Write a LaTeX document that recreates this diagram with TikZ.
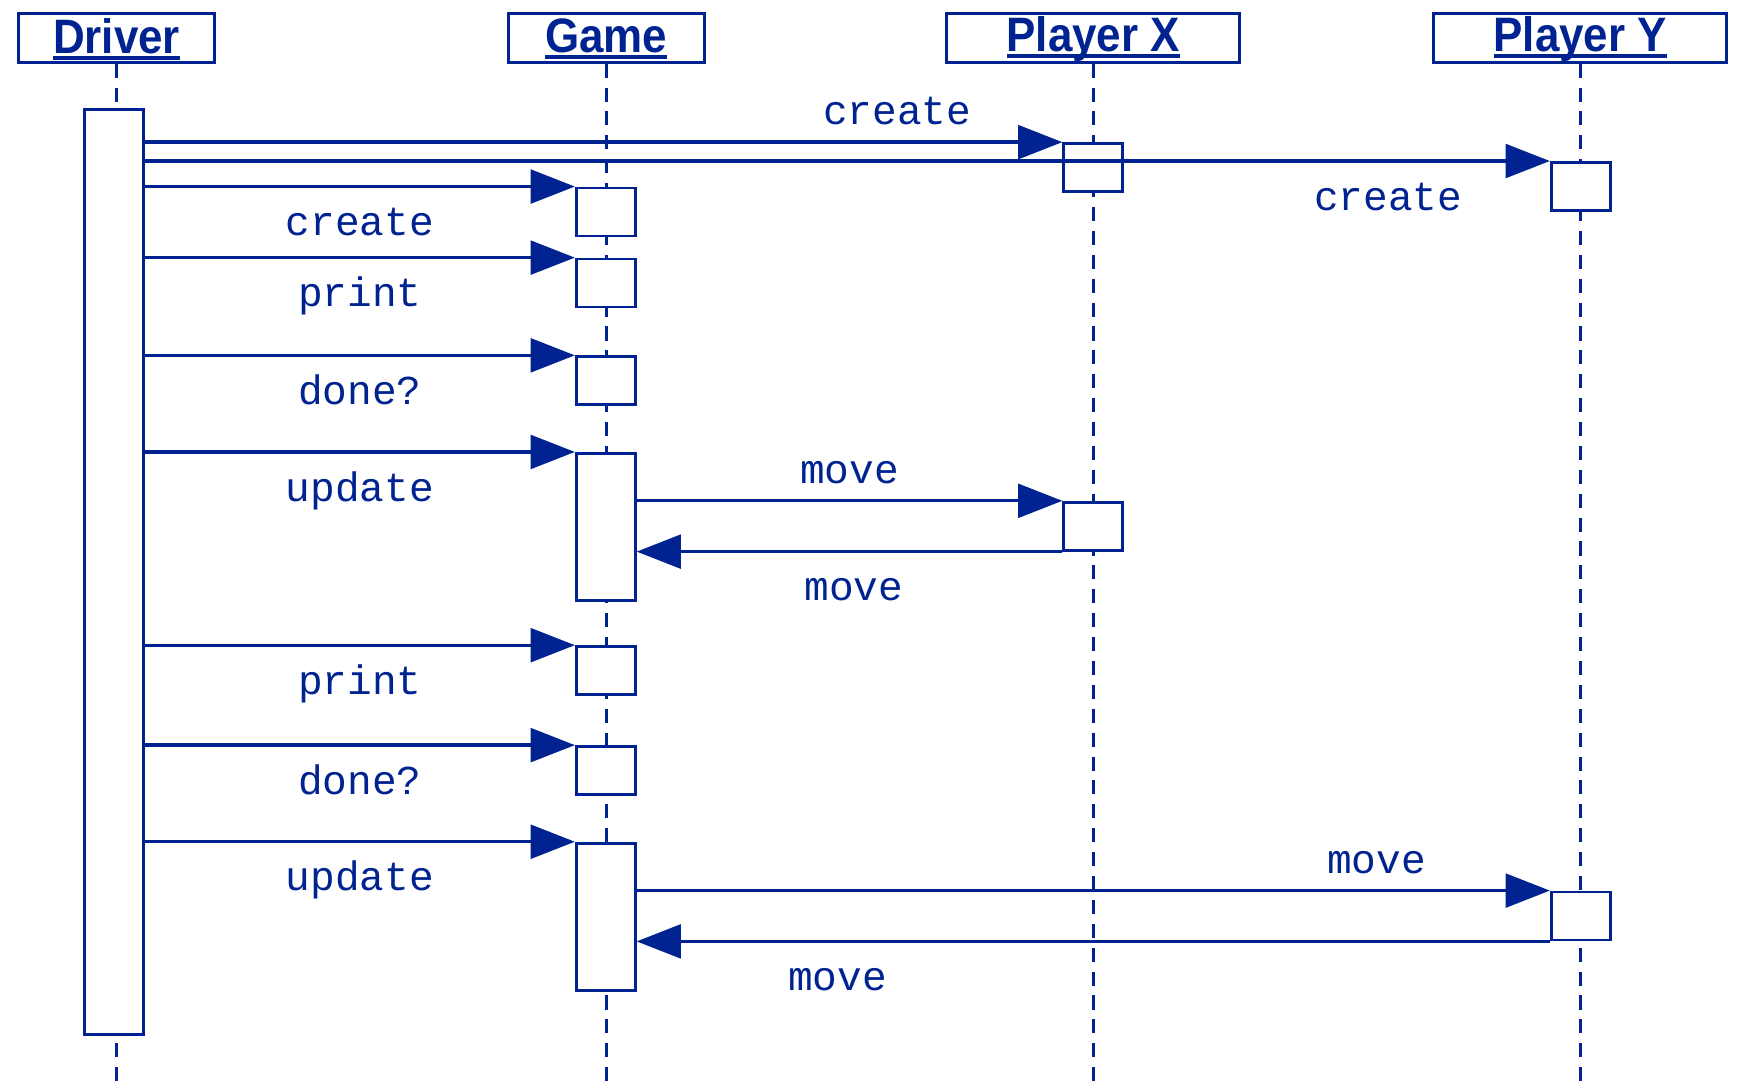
\documentclass[tikz,border=0pt]{standalone}
\usepackage{fontspec}
\setmainfont{Liberation Sans}
\newfontfamily\msgfont{Liberation Mono}
\usetikzlibrary{arrows.meta}
\definecolor{seqblue}{RGB}{0,35,145}
\newcommand{\objtitle}[1]{\raisebox{-0.3pt}[\height][\depth]{\scalebox{1}[1.1]{\begingroup\setbox0\hbox{#1}\rlap{\rule[-1.7pt]{\wd0}{0.9pt}}\box0\endgroup}}}

\begin{document}
\begin{tikzpicture}[
    x=0.01111cm, y=-0.01111cm,
    color=seqblue,
    object/.style={
        draw,
        line width=0.8pt,
        minimum height=0.49cm,
        inner sep=0pt,
        font=\bfseries\fontsize{12.5}{14}\selectfont,
    },
    activation/.style={
        draw,
        fill=white,
        line width=0.8pt,
        minimum width=0.59cm,
        inner sep=0pt,
        anchor=north,
    },
    lifeline/.style={
        line width=0.8pt,
        dash pattern=on 4pt off 2.8pt,
    },
    call/.style={
        line width=0.95pt,
        -{Triangle[length=12.6pt, width=9.6pt]},
    },
    msg/.style={
        font=\msgfont\fontsize{11.7}{13}\selectfont,
        inner sep=0pt,
        anchor=base,
    },
    msgabove/.style={msg, yshift=5pt},
    msgbelow/.style={msg, yshift=-14pt},
]
    \useasboundingbox (0,0) rectangle (1567.8,975.6);

    % Objects
    \node[object, minimum width=1.96cm] (drv) at (105,34) {\objtitle{Driver}};
    \node[object, minimum width=1.96cm] (game) at (546,34) {\objtitle{Game}};
    \node[object, minimum width=2.93cm] (px) at (984.5,34) {\objtitle{Player X}};
    \node[object, minimum width=2.93cm] (py) at (1423,34) {\objtitle{Player Y}};

    % Lifelines
    \coordinate (bottom) at (0,975);
    \foreach \obj in {drv, game, px, py}
        \draw[lifeline] (\obj.south) -- (\obj.south |- bottom);

    % Activations
    \node[activation, minimum height=9.26cm] (drvAct) at (102.5,97) {};
    \node[activation, minimum height=0.48cm] (gCreate) at (545.5,168) {};
    \node[activation, minimum height=0.48cm] (gPrint1) at (545.5,232) {};
    \node[activation, minimum height=0.48cm] (gDone1) at (545.5,320) {};
    \node[activation, minimum height=1.47cm] (gUpdate1) at (545.5,407) {};
    \node[activation, minimum height=0.48cm] (gPrint2) at (545.5,581) {};
    \node[activation, minimum height=0.48cm] (gDone2) at (545.5,671) {};
    \node[activation, minimum height=1.47cm] (gUpdate2) at (545.5,758) {};
    \node[activation, minimum height=0.48cm] (xCreate) at (984.5,128) {};
    \node[activation, minimum height=0.48cm] (xMove) at (984.5,451) {};
    \node[activation, minimum height=0.48cm] (yCreate) at (1423.5,145) {};
    \node[activation, minimum height=0.48cm] (yMove) at (1423.5,802) {};

    % Calls from the driver
    \draw[call] (drvAct.east |- xCreate.north west) -- node[msgabove, pos=0.82] {create} (xCreate.north west);
    \draw[call] (drvAct.east |- yCreate.north west) -- node[msgbelow, pos=0.885] {create} (yCreate.north west);
    \draw[call] (drvAct.east |- gCreate.north west) -- node[msgbelow] {create} (gCreate.north west);
    \draw[call] (drvAct.east |- gPrint1.north west) -- node[msgbelow] {print} (gPrint1.north west);
    \draw[call] (drvAct.east |- gDone1.north west) -- node[msgbelow] {done?} (gDone1.north west);
    \draw[call] (drvAct.east |- gUpdate1.north west) -- node[msgbelow] {update} (gUpdate1.north west);
    \draw[call] (drvAct.east |- gPrint2.north west) -- node[msgbelow] {print} (gPrint2.north west);
    \draw[call] (drvAct.east |- gDone2.north west) -- node[msgbelow] {done?} (gDone2.north west);
    \draw[call] (drvAct.east |- gUpdate2.north west) -- node[msgbelow] {update} (gUpdate2.north west);

    % Moves
    \draw[call] (gUpdate1.east |- xMove.north west) -- node[msgabove] {move} (xMove.north west);
    \draw[call] (xMove.south west) -- node[msgbelow, pos=0.49] {move} (xMove.south west -| gUpdate1.east);
    \draw[call] (gUpdate2.east |- yMove.north west) -- node[msgabove, pos=0.81] {move} (yMove.north west);
    \draw[call] (yMove.south west) -- node[msgbelow, pos=0.78] {move} (yMove.south west -| gUpdate2.east);
\end{tikzpicture}
\end{document}
